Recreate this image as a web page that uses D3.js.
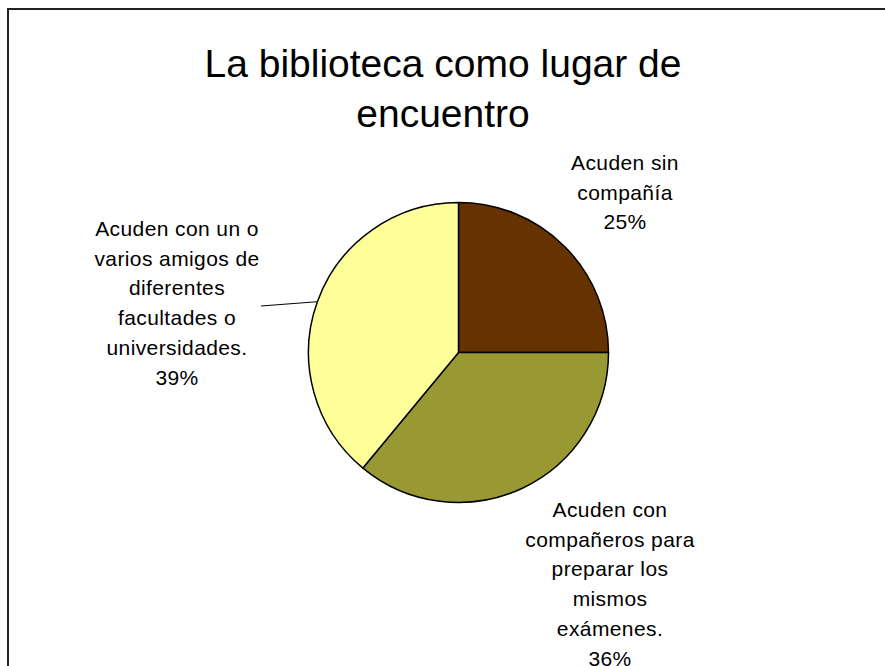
<!DOCTYPE html>
<html>
<head>
<meta charset="utf-8">
<script src="https://cdn.jsdelivr.net/npm/d3@7"></script>
<style>
  html, body { margin: 0; padding: 0; background: #fff; }
  svg { display: block; }
  text { font-family: "Liberation Sans", Arial, sans-serif; fill: #000; }
</style>
</head>
<body>
<svg id="chart" width="885" height="666"></svg>
<script>
// ── Data ──
const categories = [
  "Acuden sin compañía",
  "Acuden con compañeros para preparar los mismos exámenes.",
  "Acuden con un o varios amigos de diferentes facultades o universidades."
];
const values = [25, 36, 39];
const colors = ["#663300", "#999933", "#FFFF99"];
// label text as wrapped in the original
const labelLines = [
  ["Acuden sin", "compañía", "25%"],
  ["Acuden con", "compañeros para", "preparar los", "mismos", "exámenes.", "36%"],
  ["Acuden con un o", "varios amigos de", "diferentes", "facultades o", "universidades.", "39%"]
];
const titleLines = ["La biblioteca como lugar de", "encuentro"];

// ── Layout ──
const width = 885, height = 666;
const cx = 458.5, cy = 352.5, radius = 150;
const lineH = 29.7;
// label block centres (x) and first baseline (y)
const labelPos = [
  { x: 625, y: 170 },
  { x: 610, y: 517 },
  { x: 177, y: 236 }
];

const svg = d3.select("#chart");

// outer frame (runs past the right and bottom edge)
svg.append("rect")
  .attr("x", 8).attr("y", 9)
  .attr("width", 900).attr("height", 700)
  .attr("fill", "#fff")
  .attr("stroke", "#222")
  .attr("stroke-width", 2);

// ── Title ──
svg.append("text")
  .attr("text-anchor", "middle")
  .attr("font-size", 39)
  .selectAll("tspan")
  .data(titleLines)
  .join("tspan")
  .attr("x", 443)
  .attr("y", (d, i) => 77 + i * 50)
  .text(d => d);

// ── Pie ──
const pie = d3.pie().sort(null).value(d => d);
const arcs = pie(values);
const arc = d3.arc().innerRadius(0).outerRadius(radius);

const g = svg.append("g").attr("transform", `translate(${cx},${cy})`);

g.selectAll("path")
  .data(arcs)
  .join("path")
  .attr("d", arc)
  .attr("fill", (d, i) => colors[i])
  .attr("stroke", "#000")
  .attr("stroke-width", 1.5)
  .attr("stroke-linejoin", "round");

// leader line for the third slice
const a3 = arcs[2];
const mid = (a3.startAngle + a3.endAngle) / 2;
g.append("line")
  .attr("x1", radius * Math.sin(mid))
  .attr("y1", -radius * Math.cos(mid))
  .attr("x2", 261 - cx)
  .attr("y2", 306 - cy)
  .attr("stroke", "#000")
  .attr("stroke-width", 1);

// ── Labels ──
labelLines.forEach((lines, i) => {
  svg.append("text")
    .attr("text-anchor", "middle")
    .attr("font-size", 21)
    .attr("letter-spacing", 0.4)
    .selectAll("tspan")
    .data(lines)
    .join("tspan")
    .attr("x", labelPos[i].x)
    .attr("y", (d, j) => labelPos[i].y + j * lineH)
    .text(d => d);
});
</script>
</body>
</html>
